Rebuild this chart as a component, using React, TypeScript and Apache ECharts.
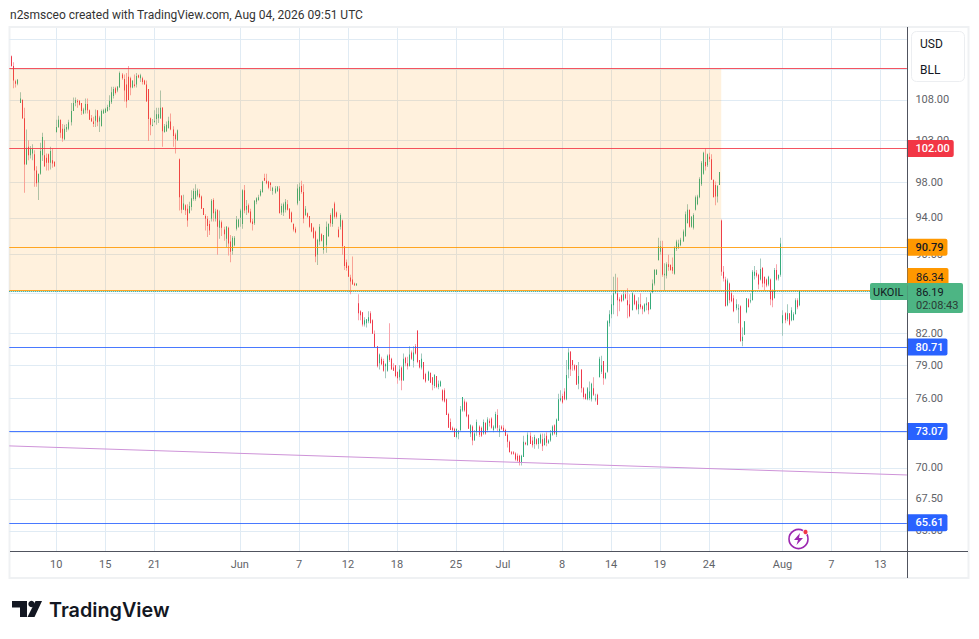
import React, { useEffect, useRef } from "react";
import * as echarts from "echarts";

type Bar = number[];

// open, high, low, close
const mayBars: Bar[] = [
  [113.7,113.8,112.3,112.4],[112.4,112.9,109.5,110.5],[110.4,110.6,109.6,110.1],[110.1,110.7,109.9,110.6],
  [107.6,109.0,107.6,108.2],[108.0,108.1,105.6,105.7],[105.7,107.0,96.8,100.1],[100.1,104.3,100.1,102.1],
  [102.2,103.0,100.6,101.2],[101.2,102.3,100.8,102.0],[101.4,102.5,100.6,102.0],[101.3,101.8,97.5,99.4],
  [99.4,99.9,97.5,97.9],[98.0,99.0,96.0,99.0],[99.0,102.7,98.9,101.7],[101.2,103.9,100.5,103.4],
  [101.2,103.0,99.8,99.9],[100.9,101.4,99.4,100.3],[101.3,101.4,99.4,100.3],[100.3,102.2,99.5,101.7],
  [100.6,102.0,99.7,100.2],[100.4,100.5,99.8,99.9],[104.0,105.5,103.9,104.6],[104.6,106.0,104.5,105.5],
  [105.5,105.5,103.3,103.9],[104.4,105.0,102.8,103.2],[103.1,104.9,103.0,104.4],[104.3,105.0,104.0,104.6],
  [104.4,105.5,104.2,105.2],[105.2,107.6,104.8,106.6],[106.6,108.3,106.6,107.6],[107.6,108.3,107.2,108.0],
  [107.9,108.1,107.0,107.8],[107.9,108.0,107.3,107.4],[107.6,107.6,106.1,106.6],[106.3,107.0,106.2,106.8],
  [106.7,108.2,106.3,107.5],[107.5,108.2,106.3,106.7],[106.7,106.8,105.5,105.5],[105.7,106.1,105.3,105.3],
  [105.3,105.9,104.6,105.0],[105.4,106.8,104.6,106.0],[106.7,106.7,104.7,105.2],[105.3,106.0,104.0,105.8],
  [104.7,106.8,104.7,106.6],[106.3,106.9,106.3,106.7],[106.4,107.0,106.4,106.9],[106.6,107.4,106.5,107.1],
  [107.1,108.6,106.7,107.9],[107.7,109.7,107.5,109.0],[108.5,109.7,108.2,109.4],[109.5,109.7,108.7,108.9],
  [109.2,109.8,109.0,109.7],[109.6,111.7,109.6,111.5],[111.3,111.5,110.6,110.8],[110.7,111.3,107.8,109.2],
  [110.0,111.5,107.0,107.8],[111.0,112.4,108.0,108.0],[110.8,111.0,108.6,109.6],[109.6,110.5,109.5,110.5],
  [110.0,111.3,109.6,109.8],[110.0,111.5,109.6,111.1],[111.2,111.3,110.8,110.9],[110.8,111.4,110.3,111.2],
  [110.8,111.0,110.0,110.3],[110.5,110.6,110.0,110.0],[110.0,110.5,107.8,107.8],[109.4,109.4,102.9,105.6],
  [105.7,105.8,103.6,104.9],[104.9,105.6,104.7,104.9],[105.2,106.7,105.2,105.4],[105.6,107.0,104.9,106.2],
  [105.7,107.0,105.1,106.2],[105.7,109.2,105.6,107.0],[107.0,107.1,102.2,104.1],[104.0,105.0,103.9,104.7],
  [104.1,105.3,104.0,104.9],[104.5,105.9,104.4,105.4],[105.3,106.3,104.2,104.3],[104.3,104.7,102.2,103.5],
  [103.7,103.9,101.4,103.1],[103.0,104.3,102.9,104.2],[100.7,100.8,94.8,96.3],[96.5,96.5,94.5,94.9],
  [94.9,96.6,94.9,95.6],[95.4,95.5,94.3,94.8],[95.0,95.5,93.0,93.7],[94.5,95.8,94.5,95.3],
  [95.2,97.1,94.8,96.2],[96.1,97.3,95.9,97.0],[96.1,97.8,95.9,97.0],[96.5,97.3,96.3,97.1],
  [96.7,97.2,96.2,96.3],[96.4,96.5,95.0,95.0],[95.1,95.1,94.3,94.3],[94.2,94.4,92.6,93.9],
  [93.9,94.2,91.9,93.1],[93.3,93.7,92.1,92.6],[93.9,96.1,93.6,95.9],[96.0,96.2,93.6,94.5],
  [93.9,95.0,93.6,94.7],[94.9,94.9,90.0,93.0],[92.9,94.8,91.7,93.7],[93.5,93.7,92.0,92.9],
  [92.7,93.0,91.5,92.2],[91.7,93.1,90.8,93.0],[92.9,93.0,89.9,91.2],[91.4,92.1,89.2,90.3],
  [90.4,92.0,90.0,91.8],[91.0,92.0,90.9,91.8],
];

const juneBars: Bar[] = [
  [92.8,94.2,92.6,93.8],[93.0,93.9,92.9,93.8],[94.0,95.0,93.0,94.8],[93.3,97.2,92.8,97.1],
  [97.1,97.7,94.5,94.8],[94.9,96.0,94.3,95.3],[95.4,95.6,94.5,94.6],[94.7,95.0,93.4,93.5],
  [93.6,93.9,92.6,93.3],[93.4,96.0,93.2,95.9],[95.8,96.3,95.5,96.2],[96.0,96.6,95.9,96.3],
  [96.5,97.2,96.4,97.0],[96.9,98.2,96.8,98.1],[98.5,99.0,98.2,98.2],[98.2,99.0,97.8,97.9],
  [98.1,98.2,97.2,97.4],[98.0,98.0,97.0,97.7],[97.0,97.5,96.6,97.4],[96.8,97.6,96.7,97.3],
  [97.0,97.6,96.9,97.5],[97.3,97.6,94.5,94.5],[94.6,95.6,94.3,95.3],[94.6,95.7,94.2,95.5],
  [94.9,96.1,94.6,95.8],[95.5,96.0,94.8,94.9],[95.0,95.1,93.9,93.9],[94.6,94.7,93.5,93.5],
  [93.3,93.4,92.5,92.7],[92.8,93.0,92.3,92.4],[95.6,97.8,95.4,97.3],[95.9,98.0,95.9,97.5],
  [97.6,98.2,96.7,96.9],[96.9,97.8,93.4,93.9],[94.3,95.3,94.2,95.0],[94.5,94.6,94.0,94.1],
  [94.2,94.2,92.9,93.0],[93.4,93.4,92.4,92.5],[92.9,93.0,91.7,91.8],[92.5,92.6,89.2,89.8],
  [90.0,91.7,88.9,91.6],[91.4,93.3,91.0,93.0],[92.2,92.3,91.4,91.5],[90.5,92.1,90.1,92.1],
  [91.0,93.6,90.2,93.0],[92.0,93.4,91.9,93.3],[94.3,94.5,93.0,93.4],[93.3,95.1,93.0,95.0],
  [95.6,95.8,93.9,94.1],[94.6,94.7,93.9,94.1],[92.7,93.0,91.8,91.9],[93.0,94.5,92.7,94.3],
  [93.7,93.8,90.0,90.9],[90.9,90.9,88.4,88.8],[89.2,89.5,88.3,88.6],[88.8,88.9,87.7,87.7],
  [87.6,87.9,85.9,87.2],[87.4,89.8,86.9,86.9],[87.0,87.1,86.8,86.8],[86.8,87.0,86.8,87.0],
  [85.0,85.9,83.3,84.0],[84.2,84.3,83.3,83.8],[84.1,84.1,82.7,82.9],[82.9,83.6,82.7,83.3],
  [83.0,83.4,82.6,83.4],[83.2,84.2,83.0,83.6],[84.0,84.2,83.0,83.0],[83.3,83.4,82.0,82.0],
  [82.0,82.3,80.7,80.7],[80.8,80.8,78.8,78.9],[79.2,80.1,78.6,80.0],[79.6,79.8,79.0,79.1],
  [79.4,79.6,78.4,78.5],[78.9,79.2,77.8,79.1],[78.5,80.0,78.4,79.9],[80.0,83.0,79.3,79.5],
  [79.6,79.7,78.6,78.6],[78.8,79.2,78.5,78.5],[79.0,79.0,77.9,78.0],[78.4,78.4,77.3,77.8],
  [77.9,79.0,77.6,78.6],[78.8,78.9,76.7,77.6],[77.6,80.1,77.6,79.6],[79.7,79.8,78.9,79.2],
  [79.2,79.8,78.6,78.9],[78.9,80.8,78.9,80.0],[80.2,80.4,79.5,79.6],[79.4,80.8,78.8,80.2],
  [80.8,81.0,80.0,80.1],[82.3,82.3,79.2,79.3],[79.5,79.5,78.7,78.8],[78.8,80.1,78.6,79.6],
  [79.3,79.3,77.7,77.7],[78.2,78.3,77.4,77.5],[77.6,78.5,77.6,78.4],[78.3,78.3,77.4,77.4],
  [77.9,77.9,76.7,77.2],[77.1,78.2,76.9,78.1],[78.0,78.0,76.9,77.0],[77.0,77.6,76.8,77.3],
  [77.1,77.6,77.0,77.5],[76.7,76.8,75.7,75.8],[76.7,76.9,75.6,75.7],[75.9,76.0,74.5,74.5],
  [74.6,74.7,73.4,73.4],[73.9,74.2,73.2,73.2],[73.4,73.5,73.1,73.2],[73.3,73.4,72.6,72.6],
  [72.6,73.3,72.5,73.3],[72.9,73.2,72.4,73.0],[73.2,75.3,73.1,75.0],[74.9,76.1,74.8,76.1],
  [75.7,75.9,74.8,74.9],[75.6,75.7,74.3,74.4],[74.5,74.6,73.3,73.3],[72.9,73.7,72.6,73.6],
  [73.5,73.6,71.9,72.3],[72.3,73.2,72.3,72.9],[73.0,74.1,72.7,73.9],[73.5,73.6,72.6,72.8],
  [73.4,73.5,72.6,72.7],[72.9,74.1,72.8,73.9],
];

const julyBars: Bar[] = [
  [73.8,73.9,72.8,72.9],[73.2,74.3,73.0,74.1],[74.0,74.2,73.5,73.8],[74.2,74.3,73.3,73.4],
  [73.2,73.6,73.0,73.5],[73.4,74.8,73.3,74.6],[74.5,75.0,73.1,73.4],[73.0,73.6,72.6,73.3],
  [73.5,73.6,73.2,73.3],[73.4,73.6,73.1,73.1],[73.2,73.3,72.7,72.7],[72.8,72.9,71.7,72.2],
  [72.2,72.3,71.3,71.3],[71.3,71.4,71.1,71.2],[71.3,71.4,71.1,71.2],[71.2,71.3,70.6,70.7],
  [71.0,71.2,70.5,70.6],[71.0,71.1,70.2,70.4],[70.4,71.1,70.2,71.0],[70.9,72.7,70.9,72.2],
  [72.1,72.2,71.9,72.0],[71.9,73.0,71.9,72.8],[72.7,73.0,72.0,72.0],[72.3,72.6,71.7,71.9],
  [72.0,72.8,71.6,72.6],[72.4,72.5,71.9,72.0],[72.0,72.5,71.6,72.5],[72.1,72.9,72.0,72.8],
  [72.4,72.9,71.4,71.8],[71.9,72.9,71.9,72.5],[72.7,73.0,71.8,72.1],[72.1,72.4,72.0,72.3],
  [72.3,73.2,72.2,72.9],[72.8,73.6,72.7,73.5],[73.6,73.7,72.8,72.9],[72.8,74.2,72.6,74.1],
  [74.0,76.4,74.0,75.9],[75.8,76.7,75.7,76.0],[76.2,76.4,75.5,75.6],[76.6,76.9,75.8,75.9],
  [75.9,79.5,75.8,78.1],[78.6,80.6,77.8,80.2],[80.3,80.3,78.0,78.6],[79.5,79.5,78.5,79.0],
  [79.0,79.1,78.5,78.6],[79.0,79.0,77.2,77.2],[77.3,79.3,76.8,78.0],[78.6,78.6,76.5,76.9],
  [76.9,77.0,75.9,76.1],[76.4,76.4,75.9,75.9],[75.9,77.0,75.8,76.9],[76.0,77.5,75.8,76.6],
  [75.9,77.4,75.7,77.3],[76.9,77.9,76.2,76.3],[75.9,76.4,75.7,76.0],[76.3,76.4,75.4,75.4],
  [77.9,79.8,77.9,79.6],[78.4,79.9,78.2,79.0],[79.4,79.4,77.2,77.8],[77.8,78.3,77.7,78.3],
  [78.4,83.3,78.3,83.2],[83.0,84.3,82.7,83.9],[83.9,85.8,83.5,84.9],[84.8,87.7,83.9,86.0],
  [86.0,88.0,85.9,86.3],[86.0,87.6,83.7,85.3],[85.4,85.6,84.2,85.2],[85.8,85.9,85.1,85.2],
  [85.3,86.2,85.2,85.9],[85.9,86.2,85.4,85.5],[85.3,86.5,83.5,84.8],[84.9,85.9,83.6,83.7],
  [84.3,86.1,84.3,86.0],[85.8,85.9,84.8,84.9],[85.2,85.3,84.3,84.4],
  [84.4,85.6,83.9,84.9],[84.9,86.0,84.4,84.6],[84.7,84.8,83.9,84.4],[84.2,85.0,84.1,84.9],
  [84.8,85.6,84.3,85.0],[85.1,85.1,83.9,84.3],[84.4,86.1,84.4,86.0],[86.1,87.4,86.0,87.0],
  [87.0,88.5,86.8,88.4],[87.9,88.5,87.9,88.4],[89.4,91.8,89.4,90.9],[90.3,91.5,90.0,90.9],
  [90.7,91.5,87.7,87.9],[87.9,89.1,86.3,88.0],[87.8,89.2,87.5,89.0],[89.0,90.0,88.3,88.7],
  [88.9,89.0,88.3,88.4],[88.7,89.7,88.0,88.3],[88.0,90.9,87.9,90.8],[90.6,91.6,90.4,91.4],
  [90.7,91.6,90.6,91.2],[91.0,91.8,90.9,91.6],[91.4,92.7,91.4,92.5],[92.0,94.7,91.9,94.4],
  [93.4,95.5,93.4,94.9],[94.9,94.9,92.9,93.0],[93.0,94.2,92.9,94.1],[92.9,94.5,92.7,94.3],
  [94.9,96.5,94.8,96.3],[95.5,96.6,95.4,96.4],[96.3,98.6,96.2,98.4],[97.8,100.5,97.6,100.3],
  [99.0,101.6,98.9,101.5],[100.4,102.0,99.4,99.9],[100.0,101.4,99.8,101.3],[101.0,101.5,100.4,100.7],
  [100.7,101.3,98.3,98.3],[98.3,98.3,96.3,96.3],[97.7,98.1,95.4,96.4],[96.4,97.7,95.7,97.6],
  [97.7,99.2,97.7,99.2],[93.7,93.8,87.8,88.2],[88.2,88.8,87.2,87.5],[87.4,87.7,84.7,84.7],
  [84.8,87.5,84.7,87.3],[87.0,87.1,85.0,85.3],[86.0,86.1,85.1,85.2],[85.5,85.8,84.1,84.2],
  [84.5,85.4,84.3,84.9],[84.4,84.9,83.0,84.5],[84.7,84.8,81.2,81.3],[81.3,82.6,80.8,81.7],
  [81.9,83.2,81.9,83.2],[84.1,85.5,84.0,85.5],[85.4,85.5,84.6,84.6],[85.2,86.0,85.0,85.3],
];

const augustBars: Bar[] = [
  [85.3,88.4,85.3,88.2],[87.8,88.8,87.4,88.2],[88.1,88.4,87.6,87.8],[87.9,88.0,86.4,86.9],
  [87.4,89.6,87.3,88.5],[88.6,88.7,86.6,87.0],[87.7,87.7,86.3,87.0],[87.4,87.5,86.6,86.8],
  [86.9,87.8,86.7,87.7],[87.4,87.5,84.8,85.4],[86.2,86.4,84.6,85.3],[85.5,88.6,85.5,88.4],
  [88.4,89.0,87.3,87.4],[87.5,87.9,87.3,87.9],[87.9,91.8,87.7,91.2],[83.0,84.3,81.8,83.8],
  [84.0,84.1,83.0,83.3],[83.4,84.9,83.2,84.0],[84.0,84.0,82.8,82.9],[83.3,84.6,83.2,84.3],
  [83.3,84.1,83.3,83.9],[83.9,85.5,83.9,85.3],[85.3,85.5,84.4,84.6],[84.8,86.34,84.7,86.19],
];

const firstBarIndex = 1;
const slotCount = 441;

const xTickIndexes = [23, 47, 71, 113, 142, 166, 190, 219, 242, 271, 295, 319, 343, 379, 403, 427];
const xTickLabels = ["10", "15", "21", "Jun", "7", "12", "18", "25", "Jul", "8", "14", "19", "24", "Aug", "7", "13"];

const gridPrices = [116, 112, 108, 103, 98, 94, 90, 86, 82, 79, 76, 73, 70, 67.5, 65];
const labelledPrices = [108, 103, 98, 94, 90, 82, 79, 76, 70, 67.5, 65];

const redLevels = [112.05, 102];
const orangeLevels = [90.79, 86.34];
const blueLevels = [80.71, 73.07, 65.61];
const taggedLevels = [102, 90.79, 80.71, 73.07, 65.61];
const lastPrice = 86.19;
const zoneTop = 112.05;
const zoneBottom = 86.3;
const zoneEndIndex = 349;
const trendPrices = [71.84, 69.42];

const RED = "#f23645";
const ORANGE = "#ff9800";
const BLUE = "#2962ff";
const GREEN = "#4db584";
const PURPLE = "#ce93d8";
const FONT = "Roboto, sans-serif";

const tickSet = new Set(xTickIndexes);
const categories = Array.from({ length: slotCount }, (_, i) => {
  const k = xTickIndexes.indexOf(i);
  return k >= 0 ? xTickLabels[k] : "";
});
const allBars = [...mayBars, ...juneBars, ...julyBars, ...augustBars];
const barData = allBars.map((b, i) => [i + firstBarIndex, b[0], b[1], b[2], b[3]]);

function renderBar(_: unknown, api: any) {
  const i = api.value(0);
  const o = api.value(1);
  const h = api.value(2);
  const l = api.value(3);
  const c = api.value(4);
  const up = c >= o;
  const x = Math.round(api.coord([i, h])[0]);
  const yH = api.coord([i, h])[1];
  const yL = api.coord([i, l])[1];
  const yO = api.coord([i, o])[1];
  const yC = api.coord([i, c])[1];
  const top = Math.min(yO, yC);
  const height = Math.max(Math.abs(yO - yC), 1.4);
  return {
    type: "group",
    children: [
      { type: "rect", shape: { x, y: yH, width: 1, height: Math.max(yL - yH, 1) }, style: { fill: up ? "#a3c9bf" : "#f8a5ad" } },
      { type: "rect", shape: { x, y: top, width: 1, height }, style: { fill: up ? "#35ab7b" : "#ee3a4c" } },
    ],
  };
}

const tagStyle = (value: number) => {
  const bg = value === 102 ? RED : value === 90.79 ? ORANGE : BLUE;
  return {
    show: true,
    position: "end" as const,
    distance: 0,
    opacity: 1,
    formatter: value.toFixed(2),
    backgroundColor: bg,
    color: value === 90.79 ? "#131722" : "#ffffff",
    fontFamily: FONT,
    fontSize: 11,
    fontWeight: 500,
    padding: [4, 4, 2, 8.5],
    borderRadius: [0, 2, 2, 0],
  };
};

const levelLine = (value: number, color: string) => ({
  yAxis: value,
  lineStyle: { color, width: 1, type: "solid" as const, opacity: 0.85 },
  label: taggedLevels.includes(value) ? tagStyle(value) : { show: false },
});

const text = (t: string, x: number, y: number, size: number, color: string, extra: object = {}) => ({
  type: "text",
  z: 30,
  silent: true,
  style: { text: t, x, y, fontSize: size, fill: color, fontFamily: FONT, textVerticalAlign: "middle", ...extra },
});

const box = (x: number, y: number, width: number, height: number, fill: string, extra: object = {}) => ({
  type: "rect",
  z: 29,
  silent: true,
  shape: { x, y, width, height, ...extra },
  style: { fill },
});

const chrome = [
  { type: "rect", z: 1, silent: true, shape: { x: 9.5, y: 27, width: 959, height: 551 }, style: { fill: "none", stroke: "#eff1f3", lineWidth: 2 } },
  { type: "line", z: 28, silent: true, shape: { x1: 10, y1: 551.5, x2: 968, y2: 551.5 }, style: { stroke: "#50535e", lineWidth: 1 } },
  { type: "line", z: 28, silent: true, shape: { x1: 907.5, y1: 27, x2: 907.5, y2: 578 }, style: { stroke: "#50535e", lineWidth: 1 } },
  { type: "rect", z: 29, silent: true, shape: { x: 911.5, y: 31.5, width: 53, height: 50, r: 5 }, style: { fill: "#fff", stroke: "#eceef1", lineWidth: 1 } },
  text("USD", 920, 44, 12, "#131722"),
  text("BLL", 920, 70, 12, "#131722"),
  box(907.5, 268, 41, 17.5, ORANGE, { r: [0, 2, 2, 0] }),
  text("86.34", 916, 277, 11, "#131722"),
  box(870, 283, 37.5, 17, GREEN, { r: [2, 0, 0, 2] }),
  text("UKOIL", 873, 292, 11, "#131722"),
  box(907.5, 283, 55.5, 30, GREEN, { r: [0, 2, 2, 0] }),
  text("86.19", 916, 292, 11, "#131722"),
  text("02:08:43", 916, 305.5, 11, "#2a3a34"),
  text("n2smsceo created with TradingView.com, Aug 04, 2026 09:51 UTC", 10, 15, 12, "#333"),
  { type: "polygon", z: 30, silent: true, shape: { points: [[12, 601], [27, 601], [27, 617], [20, 617], [20, 607.5], [12, 607.5]] }, style: { fill: "#131722" } },
  { type: "circle", z: 30, silent: true, shape: { cx: 31.5, cy: 604, r: 3.2 }, style: { fill: "#131722" } },
  { type: "polygon", z: 30, silent: true, shape: { points: [[35.5, 601], [42, 601], [34.5, 617], [27.5, 617]] }, style: { fill: "#131722" } },
  text("TradingView", 49, 609.5, 19.8, "#131722", { fontFamily: "Inter, sans-serif", fontWeight: 600 }),
  { type: "circle", z: 30, silent: true, shape: { cx: 798.5, cy: 539, r: 9.5 }, style: { fill: "#fff", stroke: "#9c27b0", lineWidth: 1.6 } },
  { type: "polygon", z: 31, silent: true, shape: { points: [[800, 533], [794, 540], [798, 540], [796.5, 545], [803, 538], [799, 538]] }, style: { fill: "#9c27b0" } },
  { type: "circle", z: 32, silent: true, shape: { cx: 805.5, cy: 532, r: 2.6 }, style: { fill: "#f23645", stroke: "#fff", lineWidth: 1 } },
];

export default function App() {
  const ref = useRef<HTMLDivElement>(null);

  useEffect(() => {
    const chart = echarts.init(ref.current as HTMLDivElement, undefined, { renderer: "svg" });
    chart.setOption({
      animation: false,
      backgroundColor: "#ffffff",
      textStyle: { fontFamily: FONT },
      grid: { left: 9.3, right: 72.1, top: 27, bottom: 88, containLabel: false },
      xAxis: {
        type: "category",
        data: categories,
        boundaryGap: false,
        axisLine: { show: false },
        axisTick: { show: false },
        axisLabel: {
          interval: (i: number) => tickSet.has(i),
          color: "#5f6368",
          fontSize: 11,
          fontFamily: FONT,
          margin: 8,
        },
        splitLine: {
          show: true,
          interval: (i: number) => tickSet.has(i),
          lineStyle: { color: "#e0ebf4", width: 1 },
        },
      },
      yAxis: {
        type: "log",
        min: 63.47,
        max: 117.7,
        position: "right",
        axisLine: { show: false },
        axisTick: { show: false },
        axisLabel: { show: false },
        splitLine: { show: false },
        minorTick: { show: false },
        minorSplitLine: { show: false },
      },
      graphic: { elements: chrome },
      series: [
        {
          type: "line",
          name: "grid",
          data: [],
          markLine: {
            z: 1,
            silent: true,
            symbol: ["none", "none"],
            animation: false,
            data: gridPrices.map((p) => ({
              yAxis: p,
              lineStyle: { color: "#e0ebf4", width: 1, type: "solid" },
              label: labelledPrices.includes(p)
                ? {
                    show: true,
                    position: "end",
                    distance: 8.5,
                    formatter: p.toFixed(2),
                    color: "#5f6368",
                    fontSize: 11,
                    fontFamily: FONT,
                    padding: [2, 0, 0, 0],
                  }
                : { show: false },
            })),
          },
        },
        {
          type: "custom",
          name: "UKOIL",
          z: 2,
          renderItem: renderBar,
          data: barData,
          encode: { x: 0, y: [1, 2, 3, 4] },
          clip: false,
        },
        {
          type: "line",
          name: "zone",
          data: [],
          markArea: {
            z: 3,
            silent: true,
            animation: false,
            itemStyle: { color: "rgba(255,152,0,0.135)" },
            data: [[{ xAxis: 0, yAxis: zoneTop }, { xAxis: zoneEndIndex, yAxis: zoneBottom }]],
          },
        },
        {
          type: "line",
          name: "levels",
          data: [],
          markLine: {
            z: 5,
            silent: true,
            symbol: ["none", "none"],
            animation: false,
            data: [
              ...redLevels.map((v) => levelLine(v, RED)),
              ...orangeLevels.map((v) => levelLine(v, ORANGE)),
              ...blueLevels.map((v) => levelLine(v, BLUE)),
              {
                yAxis: lastPrice,
                lineStyle: { color: "#089981", width: 1, type: "dotted" },
                label: { show: false },
              },
              [
                { coord: [0, trendPrices[0]], lineStyle: { color: PURPLE, width: 1, type: "solid" }, label: { show: false } },
                { coord: [slotCount - 1, trendPrices[1]] },
              ],
            ],
          },
        },
      ],
    });
    return () => chart.dispose();
  }, []);

  return <div ref={ref} style={{ position: "fixed", left: 0, top: 0, width: 979, height: 639 }} />;
}
